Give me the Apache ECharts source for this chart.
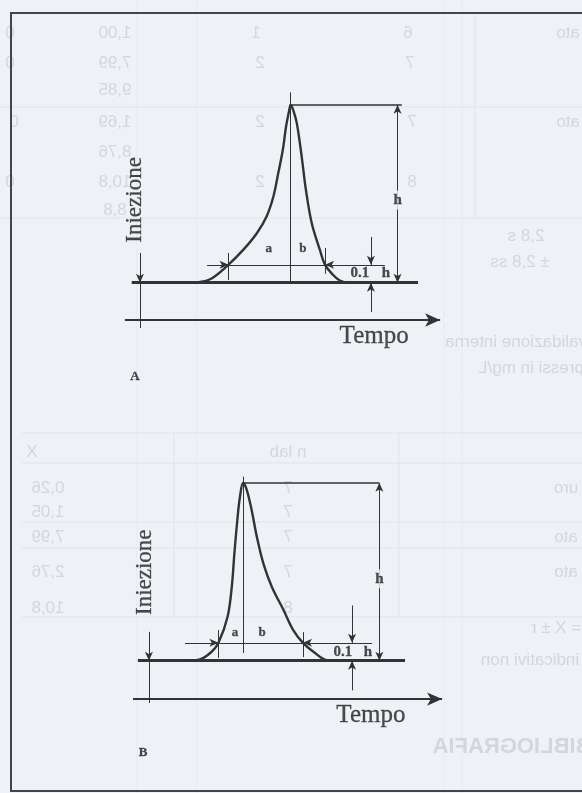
<!DOCTYPE html>
<html>
<head>
<meta charset="utf-8">
<script src="https://cdn.jsdelivr.net/npm/echarts@6/dist/echarts.min.js"></script>
<style>
  html, body { margin: 0; padding: 0; background: #eef2f7; }
  #chart { width: 582px; height: 793px; }
</style>
</head>
<body>
<div id="chart"></div>
<script>
// peak A (fronting) - time in arbitrary units, signal in tenths of h
const timeA   = [22.5, 27.7, 33.3, 37.9, 42.1, 45.1, 47.2, 48.7, 50.1, 51.1, 52.1, 52.5, 53.3, 54.4, 55.9, 57.2, 59.0, 61.5, 63.1, 65.6, 67.6, 69.7]
const signalA = [0, 0.19, 1.0, 1.84, 2.78, 3.72, 4.84, 6.16, 7.47, 8.78, 9.72, 10, 9.7, 8.97, 7.09, 5.22, 3.34, 1.84, 1.0, 0.43, 0.12, 0]
// peak B (tailing)
const timeB   = [20.5, 24.6, 28.2, 30.3, 33.1, 34.4, 35.2, 36.1, 36.9, 37.9, 39.0, 40.5, 42.1, 44.1, 46.7, 50.3, 53.3, 56.3, 59.5, 63.6, 66.7]
const signalB = [0, 0.07, 0.5, 1.0, 2.47, 4.16, 6.03, 7.9, 9.2, 10, 9.6, 8.47, 6.97, 5.47, 4.16, 2.85, 1.72, 1.0, 0.5, 0.03, 0]

const peakHeight = 10
const tenth = peakHeight / 10
// apex time and the two crossings at 0.1 h
const apexA = 52.5, crossA = [33.4, 63.1]
const apexB = 37.9, crossB = [30.3, 56.3]

const ink = '#333333'
const serif = 'Liberation Serif'
const bg = '#eef2f7'

function seg(from, to, o) {
  o = o || {}
  return [
    { coord: from, symbol: o.start || 'none', symbolSize: o.size || [6, 9],
      lineStyle: { width: o.width || 1, color: ink, type: 'solid' } },
    { coord: to, symbol: o.end || 'none', symbolSize: o.size || [6, 9] }
  ]
}

function zip(t, s) { return t.map((v, i) => [v, s[i]]) }

function txt(x, y, s, o) {
  o = o || {}
  return {
    value: [x, y],
    label: Object.assign({
      show: true, position: 'inside', formatter: s,
      fontFamily: serif, fontSize: 14, fontWeight: 'bold', color: '#1f1f1f',
      textBorderColor: '#1f1f1f', textBorderWidth: 0.3
    }, o)
  }
}

// dimension lines of one diagram
function annotations(p) {
  const d = []
  d.push(seg([p.baseFrom, 0], [p.baseTo, 0], { width: 3 }))
  d.push(seg([p.axisFrom, p.axisY], [p.axisTo, p.axisY], { width: 2, end: 'arrow', size: [10, 15] }))
  d.push(seg([p.inj, p.injTop], [p.inj, 0], { end: 'arrow' }))
  d.push(seg([p.inj, 0], [p.inj, p.injBottom]))
  d.push(seg([p.apex, p.centerTop], [p.apex, p.centerBottom]))
  d.push(seg([p.apex, peakHeight], [p.topTo, peakHeight], { width: 1.5 }))
  d.push(seg([p.hX, peakHeight], [p.hX, 0], { start: 'arrow', end: 'arrow' }))
  d.push(seg([p.tenthFrom, tenth], [p.cross[0], tenth], { end: 'arrow' }))
  d.push(seg([p.cross[0], tenth], [p.cross[1], tenth]))
  d.push(seg([p.tenthTo, tenth], [p.cross[1], tenth], { end: 'arrow' }))
  d.push(seg([p.cross[0], p.tickL[0]], [p.cross[0], p.tickL[1]]))
  d.push(seg([p.cross[1], p.tickR[0]], [p.cross[1], p.tickR[1]]))
  d.push(seg([p.dimX, p.dimTop], [p.dimX, tenth], { end: 'arrow' }))
  d.push(seg([p.dimX, p.dimBottom], [p.dimX, 0], { end: 'arrow' }))
  return d
}

const annA = annotations({
  baseFrom: 3.6, baseTo: 91.7, axisFrom: 1.5, axisTo: 98.5, axisY: -2.1,
  inj: 6.15, injTop: 1.67, injBottom: -2.55,
  apex: apexA, centerTop: 10.7, centerBottom: 0, topTo: 86.7, hX: 85.4,
  tenthFrom: 26.8, tenthTo: 81.5, cross: crossA, tickL: [1.67, 0.15], tickR: [1.95, 0.5],
  dimX: 77.2, dimTop: 2.57, dimBottom: -1.65
})
const annB = annotations({
  baseFrom: 5.5, baseTo: 87.7, axisFrom: 4.0, axisTo: 99.1, axisY: -2.16,
  inj: 8.9, injTop: 1.62, injBottom: -2.38,
  apex: apexB, centerTop: 10.35, centerBottom: 0.43, topTo: 79.7, hX: 79.8,
  tenthFrom: 20, tenthTo: 77.5, cross: crossB, tickL: [1.72, 0.15], tickR: [1.6, 0.2],
  dimX: 71.4, dimTop: 3.1, dimBottom: -1.67
})

const labelsA = [
  txt(4.6, 4.65, 'Iniezione', { rotate: 90, fontSize: 23, fontWeight: 'normal' }),
  txt(78.2, -3.05, 'Tempo', { fontSize: 25, fontWeight: 'normal' }),
  txt(4.6, -5.3, 'A', { fontSize: 13 }),
  txt(45.8, 1.9, 'a', { fontSize: 13 }),
  txt(56.3, 1.9, 'b', { fontSize: 13 }),
  txt(85.4, 4.64, 'h', { fontSize: 15, backgroundColor: bg, padding: [2, 0] }),
  txt(73.8, 0.54, '0.1', { fontSize: 15 }),
  txt(81.8, 0.54, 'h', { fontSize: 15 })
]
const labelsB = [
  txt(7.7, 4.97, 'Iniezione', { rotate: 90, fontSize: 23, fontWeight: 'normal' }),
  txt(77.2, -3.06, 'Tempo', { fontSize: 25, fontWeight: 'normal' }),
  txt(7.1, -5.2, 'B', { fontSize: 13 }),
  txt(35.4, 1.6, 'a', { fontSize: 13 }),
  txt(43.7, 1.6, 'b', { fontSize: 13 }),
  txt(79.8, 4.6, 'h', { fontSize: 15, backgroundColor: bg, padding: [2, 0] }),
  txt(68.6, 0.48, '0.1', { fontSize: 15 }),
  txt(76.3, 0.48, 'h', { fontSize: 15 })
]

function curve(data, idx, ann) {
  return {
    type: 'line', xAxisIndex: idx, yAxisIndex: idx, data: data,
    smooth: 0.35, symbol: 'none', z: 3,
    lineStyle: { color: ink, width: 2.4 },
    markLine: { silent: true, symbol: ['none', 'none'], label: { show: false },
      lineStyle: { type: 'solid' }, data: ann, z: 2 }
  }
}
function texts(data, idx) {
  return {
    type: 'scatter', xAxisIndex: idx, yAxisIndex: idx, data: data, clip: false,
    symbolSize: 0, itemStyle: { color: 'rgba(0,0,0,0)' }, silent: true, z: 4
  }
}

// faint table printed on the back of the sheet, seen through the scan (mirrored)
const ghost = '#e0e4ea'
const ghostInk = '#d2d7de'
const ghostLines = [
  [0, 107, 582, 107], [0, 218, 582, 218], [475, 13, 475, 218],
  [22, 433, 582, 433], [22, 463, 582, 463], [22, 522, 582, 522], [22, 548, 582, 548], [22, 617, 582, 617],
  [174, 433, 174, 617], [399, 433, 399, 617]
]
const ghostTexts = [
  ['1,00', 115, 33], ['1', 256, 33], ['6', 408, 33], ['ato', 568, 33], ['0', 10, 33],
  ['7,99', 115, 63], ['2', 260, 63], ['7', 410, 63], ['0', 10, 63],
  ['9,85', 115, 90],
  ['1,69', 115, 122], ['2', 260, 122], ['7', 412, 122], ['ato', 568, 122], ['0', 14, 122],
  ['8,76', 115, 152],
  ['10,8', 115, 182], ['2', 260, 182], ['8', 412, 182], ['0', 10, 182],
  ['8,8', 115, 210],
  ['2,8 s', 526, 236], ['± 2,8 ss', 520, 262],
  ['di validazione interna', 525, 342], ['espressi in mg/L', 540, 368],
  ['X', 32, 452], ['n lab', 288, 452],
  ['0,26', 48, 488], ['7', 288, 488], ['uro', 566, 488],
  ['1,05', 48, 512], ['7', 288, 512],
  ['7,99', 48, 537], ['7', 288, 537], ['ato', 566, 537],
  ['2,76', 48, 572], ['7', 288, 572], ['ato', 566, 572],
  ['10,8', 48, 608], ['8', 288, 608],
  ['= X ± r', 556, 628], ['indicativi non', 530, 660]
]
const scanLines = [137, 197, 444, 462]

const graphic = []
scanLines.forEach(x => graphic.push({
  type: 'line', z: -3, shape: { x1: x, y1: 0, x2: x, y2: 793 }, style: { stroke: '#e1ebf6', lineWidth: 1 }
}))
ghostLines.forEach(l => graphic.push({
  type: 'line', z: -2, shape: { x1: l[0], y1: l[1], x2: l[2], y2: l[3] }, style: { stroke: ghost, lineWidth: 1 }
}))
ghostTexts.forEach(t => graphic.push({
  type: 'text', z: -1, x: t[1], y: t[2], scaleX: -1,
  style: { text: t[0], fill: ghostInk, font: '17px "Liberation Sans"', align: 'center', verticalAlign: 'middle' }
}))
graphic.push({
  type: 'text', z: -1, x: 512, y: 747, scaleX: -1,
  style: { text: 'BIBLIOGRAFIA', fill: ghostInk, font: 'bold 22px "Liberation Sans"', align: 'center', verticalAlign: 'middle' }
})
graphic.push({
  type: 'rect', z: 10, shape: { x: 11, y: 13, width: 600, height: 778 },
  style: { fill: 'none', stroke: '#454545', lineWidth: 2 }
})

const chart = echarts.init(document.getElementById('chart'))
chart.setOption({
  backgroundColor: bg,
  animation: false,
  graphic: graphic,
  grid: [
    { left: 120, width: 325, top: 87, height: 249 },
    { left: 120, width: 325, top: 465, height: 249 }
  ],
  xAxis: [
    { type: 'value', gridIndex: 0, min: 0, max: 100, show: false },
    { type: 'value', gridIndex: 1, min: 0, max: 100, show: false }
  ],
  yAxis: [
    { type: 'value', gridIndex: 0, min: -3, max: 11, show: false },
    { type: 'value', gridIndex: 1, min: -3, max: 11, show: false }
  ],
  series: [
    curve(zip(timeA, signalA), 0, annA),
    curve(zip(timeB, signalB), 1, annB),
    texts(labelsA, 0),
    texts(labelsB, 1)
  ]
})
</script>
</body>
</html>
